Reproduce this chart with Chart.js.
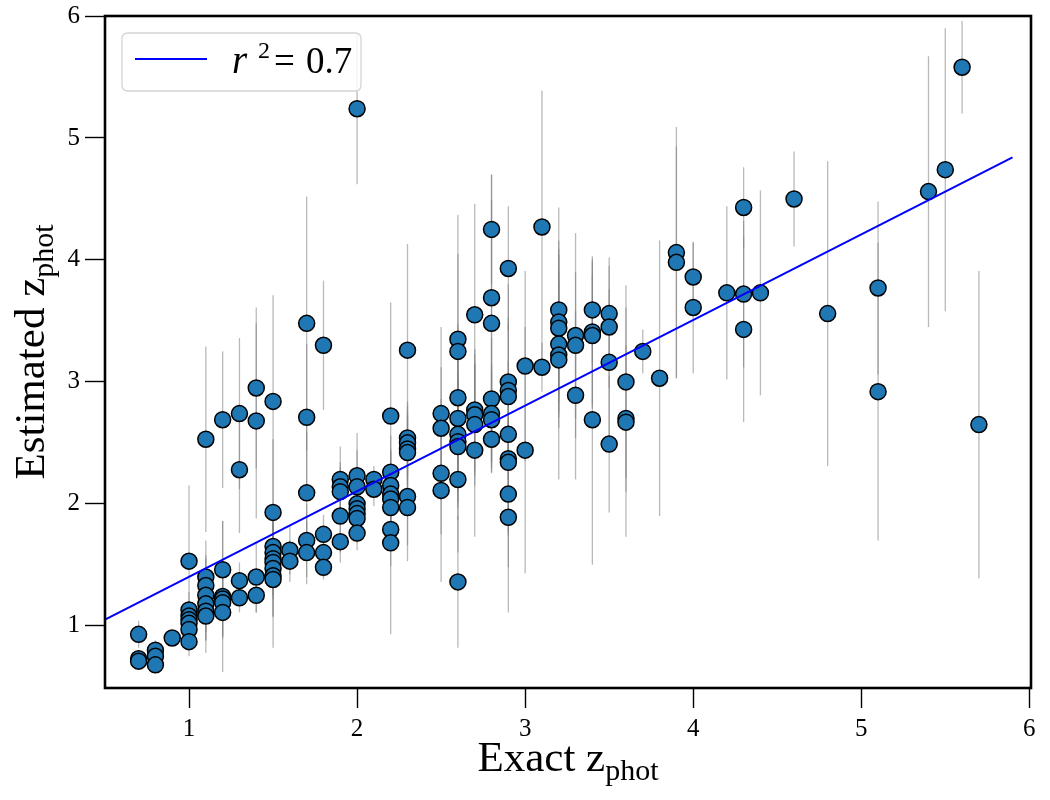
<!DOCTYPE html>
<html>
<head>
<meta charset="utf-8">
<script src="https://cdn.jsdelivr.net/npm/chart.js@4.4.1/dist/chart.umd.min.js"></script>
<style>
  html, body { margin: 0; padding: 0; background: #fff; }
  #wrap { width: 1050px; height: 800px; }
</style>
</head>
<body>
<div id="wrap"><canvas id="c" width="1050" height="800"></canvas></div>
<script>
// ---- data ----
const xVals = [
  0.7,0.7,0.7,
  0.8,0.8,0.8,
  0.9,
  1.0,1.0,1.0,1.0,1.0,1.0,1.0,
  1.1,1.1,1.1,1.1,1.1,1.1,1.1,
  1.2,1.2,1.2,1.2,1.2,1.2,
  1.3,1.3,1.3,1.3,
  1.4,1.4,1.4,1.4,
  1.5,1.5,1.5,1.5,1.5,1.5,1.5,1.5,1.5,
  1.6,1.6,
  1.7,1.7,1.7,1.7,1.7,
  1.8,1.8,1.8,1.8,
  1.9,1.9,1.9,1.9,1.9,
  2.0,2.0,2.0,2.0,2.0,2.0,2.0,2.0,
  2.1,2.1,
  2.2,2.2,2.2,2.2,2.2,2.2,2.2,2.2,
  2.3,2.3,2.3,2.3,2.3,2.3,2.3,
  2.5,2.5,2.5,2.5,
  2.6,2.6,2.6,2.6,2.6,2.6,2.6,2.6,2.6,
  2.7,2.7,2.7,2.7,2.7,
  2.8,2.8,2.8,2.8,2.8,2.8,2.8,
  2.9,2.9,2.9,2.9,2.9,2.9,2.9,2.9,2.9,
  3.0,3.0,
  3.1,3.1,
  3.2,3.2,3.2,3.2,3.2,3.2,
  3.3,3.3,3.3,
  3.4,3.4,3.4,3.4,
  3.5,3.5,3.5,3.5,
  3.6,3.6,3.6,
  3.7,
  3.8,
  3.9,3.9,
  4.0,4.0,
  4.2,
  4.3,4.3,4.3,
  4.4,
  4.6,
  4.8,
  5.1,5.1,
  5.4,
  5.5,
  5.6,
  5.7
];
const yVals = [
  0.93,0.73,0.71,
  0.80,0.75,0.68,
  0.90,
  1.53,1.13,1.08,1.05,1.02,0.97,0.87,
  2.53,1.40,1.33,1.25,1.18,1.12,1.08,
  2.69,1.46,1.24,1.22,1.19,1.11,
  2.74,2.28,1.37,1.23,
  2.95,2.68,1.40,1.25,
  2.84,1.93,1.65,1.60,1.55,1.52,1.47,1.41,1.38,
  1.62,1.53,
  3.48,2.71,2.09,1.70,1.60,
  3.30,1.75,1.60,1.48,
  2.20,2.14,2.10,1.90,1.69,
  5.24,2.23,2.14,2.00,1.96,1.92,1.88,1.76,
  2.20,2.12,
  2.72,2.26,2.15,2.08,2.04,1.97,1.79,1.68,
  3.26,2.54,2.50,2.45,2.42,2.06,1.97,
  2.74,2.62,2.25,2.11,
  3.35,3.25,2.87,2.70,2.57,2.51,2.47,2.20,1.36,
  3.55,2.77,2.73,2.65,2.44,
  4.25,3.69,3.48,2.86,2.74,2.69,2.53,
  3.93,3.00,2.93,2.88,2.57,2.37,2.34,2.08,1.89,
  3.13,2.44,
  4.27,3.12,
  3.59,3.49,3.44,3.31,3.22,3.18,
  3.38,3.30,2.89,
  3.59,3.41,3.38,2.69,
  3.56,3.45,3.16,2.49,
  3.00,2.70,2.67,
  3.25,
  3.03,
  4.06,3.98,
  3.86,3.61,
  3.73,
  4.43,3.72,3.43,
  3.73,
  4.50,
  3.56,
  3.77,2.92,
  4.56,
  4.74,
  5.58,
  2.65
];
const yErr = [
  0.11,0.07,0.07,
  0.08,0.06,0.06,
  0.05,
  0.62,0.15,0.12,0.10,0.10,0.12,0.12,
  0.76,0.30,0.25,0.30,0.30,0.34,0.20,
  0.56,0.40,0.62,0.30,0.30,0.20,
  0.62,0.52,0.15,0.12,
  0.66,0.80,0.29,0.14,
  0.87,0.60,0.30,0.30,0.30,0.30,0.40,0.59,0.30,
  0.20,0.17,
  1.04,0.60,0.50,0.30,0.26,
  0.53,0.16,0.20,0.10,
  0.27,0.20,0.20,0.30,0.17,
  0.62,0.35,0.30,0.25,0.20,0.20,0.20,0.14,
  0.11,0.14,
  0.93,0.30,0.30,0.20,0.20,0.20,0.30,0.75,
  0.87,0.30,0.30,0.30,0.30,0.40,0.44,
  0.71,0.50,0.50,0.75,
  1.02,0.80,0.60,0.60,0.60,0.50,0.60,0.60,0.54,
  0.91,0.50,0.50,0.50,0.71,
  0.45,0.80,1.22,0.50,0.40,0.40,0.28,
  0.51,0.80,0.60,0.60,0.60,0.60,0.60,0.60,0.78,
  0.78,1.01,
  1.12,0.20,
  0.84,0.60,0.60,0.60,0.60,0.98,
  0.84,0.60,0.69,
  0.44,0.60,0.60,1.19,
  0.46,0.50,0.60,0.56,
  0.79,0.60,0.94,
  0.18,
  1.13,
  1.03,0.95,
  0.28,0.54,
  0.71,
  0.33,0.60,0.76,
  0.84,
  0.39,
  1.25,
  0.71,1.22,
  1.11,
  1.16,
  0.38,
  1.26
];
// regression line end points
const fitX = [0.5, 5.9];
const fitY = [1.05, 4.84];
const rSquared = "0.7";
const xTicks = [1, 2, 3, 4, 5, 6];
const yTicks = [1, 2, 3, 4, 5, 6];

const scatterData = xVals.map((x, i) => ({ x: x, y: yVals[i] }));
const fitData = fitX.map((x, i) => ({ x: x, y: fitY[i] }));

const SERIF = '"Liberation Serif", "DejaVu Serif", serif';

const errorBarPlugin = {
  id: 'errorBars',
  beforeDatasetsDraw(chart) {
    const { ctx, chartArea, scales } = chart;
    const xs = scales.x, ys = scales.y;
    ctx.save();
    ctx.beginPath();
    ctx.rect(chartArea.left, chartArea.top, chartArea.right - chartArea.left, chartArea.bottom - chartArea.top);
    ctx.clip();
    ctx.strokeStyle = 'rgba(128,128,128,0.55)';
    ctx.lineWidth = 1.3;
    for (let i = 0; i < xVals.length; i++) {
      const px = xs.getPixelForValue(xVals[i]);
      const y1 = ys.getPixelForValue(yVals[i] - yErr[i]);
      const y2 = ys.getPixelForValue(yVals[i] + yErr[i]);
      ctx.beginPath();
      ctx.moveTo(px, y1);
      ctx.lineTo(px, y2);
      ctx.stroke();
    }
    ctx.restore();
  }
};

function drawSubLabel(ctx, main, sub, size) {
  ctx.font = size + 'px ' + SERIF;
  const wMain = ctx.measureText(main).width;
  const subSize = Math.round(size * 0.7);
  ctx.font = subSize + 'px ' + SERIF;
  const wSub = ctx.measureText(sub).width;
  const total = wMain + wSub;
  ctx.textAlign = 'left';
  ctx.textBaseline = 'alphabetic';
  ctx.fillStyle = '#000';
  ctx.font = size + 'px ' + SERIF;
  ctx.fillText(main, -total / 2, 0);
  ctx.font = subSize + 'px ' + SERIF;
  ctx.fillText(sub, -total / 2 + wMain, size * 0.2);
}

const framePlugin = {
  id: 'frameAndLabels',
  afterDraw(chart) {
    const { ctx, chartArea } = chart;
    const l = chartArea.left, r = chartArea.right, t = chartArea.top, b = chartArea.bottom;
    ctx.save();
    // frame
    ctx.strokeStyle = '#000';
    ctx.lineWidth = 2.6;
    ctx.strokeRect(l, t, r - l, b - t);

    // legend
    const lx = l + 17, ly = t + 17, lw = 239, lh = 58, rad = 6;
    ctx.beginPath();
    ctx.moveTo(lx + rad, ly);
    ctx.lineTo(lx + lw - rad, ly);
    ctx.quadraticCurveTo(lx + lw, ly, lx + lw, ly + rad);
    ctx.lineTo(lx + lw, ly + lh - rad);
    ctx.quadraticCurveTo(lx + lw, ly + lh, lx + lw - rad, ly + lh);
    ctx.lineTo(lx + rad, ly + lh);
    ctx.quadraticCurveTo(lx, ly + lh, lx, ly + lh - rad);
    ctx.lineTo(lx, ly + rad);
    ctx.quadraticCurveTo(lx, ly, lx + rad, ly);
    ctx.closePath();
    ctx.fillStyle = 'rgba(255,255,255,0.85)';
    ctx.fill();
    ctx.strokeStyle = '#d4d4d4';
    ctx.lineWidth = 1.3;
    ctx.stroke();

    ctx.strokeStyle = '#0000ff';
    ctx.lineWidth = 2;
    ctx.beginPath();
    ctx.moveTo(lx + 13, ly + 26);
    ctx.lineTo(lx + 85, ly + 26);
    ctx.stroke();

    ctx.fillStyle = '#000';
    ctx.textBaseline = 'alphabetic';
    ctx.textAlign = 'left';
    ctx.font = 'italic 39px ' + SERIF;
    ctx.fillText('r', lx + 110, ly + 40);
    ctx.font = '24px ' + SERIF;
    ctx.fillText('2', lx + 136, ly + 25);
    ctx.font = '37px ' + SERIF;
    ctx.fillText('=', lx + 152, ly + 40);
    ctx.fillText(rSquared, lx + 184, ly + 40);

    // axis titles
    ctx.save();
    ctx.translate((l + r) / 2, 771);
    drawSubLabel(ctx, 'Exact z', 'phot', 43);
    ctx.restore();

    ctx.save();
    ctx.translate(44, (t + b) / 2);
    ctx.rotate(-Math.PI / 2);
    drawSubLabel(ctx, 'Estimated z', 'phot', 43);
    ctx.restore();

    ctx.restore();
  }
};

new Chart(document.getElementById('c'), {
  type: 'scatter',
  data: {
    datasets: [
      {
        type: 'line',
        label: 'fit',
        data: fitData,
        borderColor: '#0000ff',
        borderWidth: 2,
        pointRadius: 0,
        fill: false,
        order: 0
      },
      {
        label: 'points',
        data: scatterData,
        backgroundColor: '#1f77b4',
        borderColor: '#000000',
        borderWidth: 1.5,
        pointRadius: 8,
        pointHoverRadius: 8,
        order: 1
      }
    ]
  },
  options: {
    responsive: false,
    animation: false,
    devicePixelRatio: 1,
    layout: { padding: { left: 0, top: 16, right: 19, bottom: 0 } },
    plugins: {
      legend: { display: false },
      tooltip: { enabled: false }
    },
    scales: {
      x: {
        type: 'linear',
        min: 0.5,
        max: 6.01,
        afterFit(scale) {
          scale.height = 112;
          scale.paddingLeft = 0; scale.paddingRight = 0;
        },
        afterBuildTicks(scale) { scale.ticks = xTicks.map(v => ({ value: v })); },
        border: { display: false },
        grid: {
          drawOnChartArea: false,
          drawTicks: true,
          tickLength: 20,
          tickColor: '#000',
          tickWidth: 1.4,
          color: '#000'
        },
        ticks: {
          color: '#000',
          padding: 6,
          font: { family: SERIF, size: 25 },
          maxRotation: 0,
          callback: v => String(v)
        }
      },
      y: {
        type: 'linear',
        min: 0.49,
        max: 6.0,
        afterFit(scale) {
          scale.width = 105;
          scale.paddingTop = 0; scale.paddingBottom = 0;
        },
        afterBuildTicks(scale) { scale.ticks = yTicks.map(v => ({ value: v })); },
        border: { display: false },
        grid: {
          drawOnChartArea: false,
          drawTicks: true,
          tickLength: 20,
          tickColor: '#000',
          tickWidth: 1.4,
          color: '#000'
        },
        ticks: {
          color: '#000',
          padding: 5,
          font: { family: SERIF, size: 25 },
          callback: v => String(v)
        }
      }
    }
  },
  plugins: [errorBarPlugin, framePlugin]
});
</script>
</body>
</html>
